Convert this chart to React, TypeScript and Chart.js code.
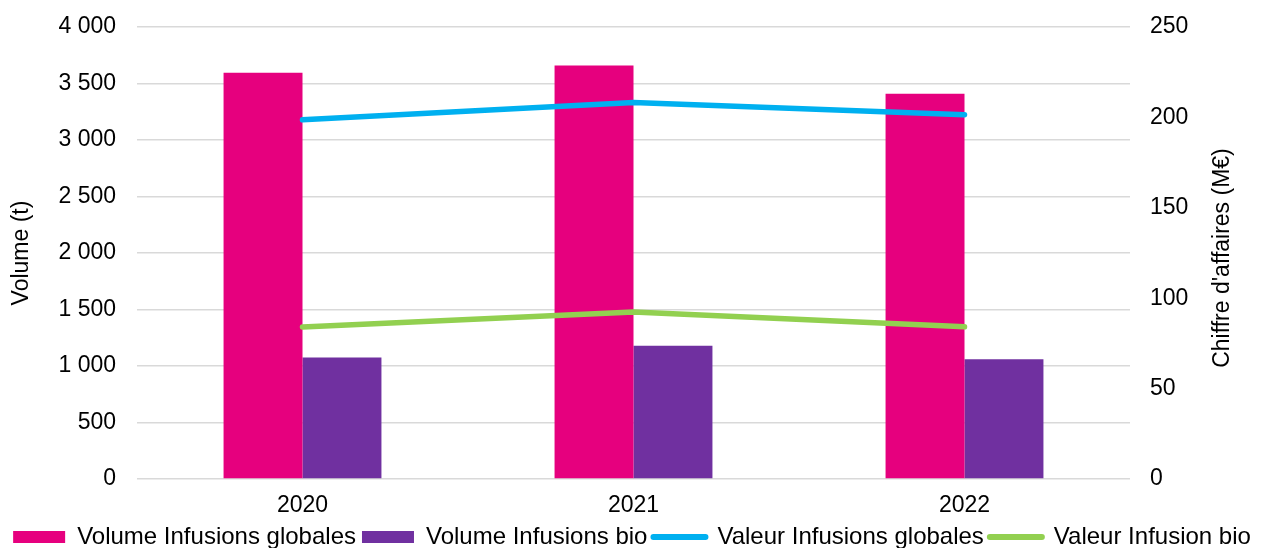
import React, { useEffect, useRef } from 'react';
import { Chart, registerables } from 'chart.js';

Chart.register(...registerables);

const categories = ['2020', '2021', '2022'];
const volumeGlobales = [3595, 3660, 3410];
const volumeBio = [1076, 1180, 1060];
const valeurGlobales = [198.7, 208.3, 201.5];
const valeurBio = [84.1, 92.4, 84.2];
const seriesLabels = [
  'Volume Infusions globales',
  'Volume Infusions bio',
  'Valeur Infusions globales',
  'Valeur Infusion bio',
];
const leftAxisTitle = 'Volume (t)';
const rightAxisTitle = "Chiffre d'affaires (M€)";

const FONT = '"Liberation Sans", Arial, sans-serif';
const PINK = '#E6007E';
const PURPLE = '#7030A0';
const BLUE = '#00B0F0';
const GREEN = '#92D050';
const GRID = '#D9D9D9';

const fmt = (v: number) => String(v).replace(/\B(?=(\d{3})+(?!\d))/g, ' ');

const rightTitlePlugin = {
  id: 'rightTitle',
  afterDraw(chart: any) {
    const s = chart.scales.y1;
    const ctx = chart.ctx;
    ctx.save();
    ctx.translate(s.right - 41, 258);
    ctx.rotate(-Math.PI / 2);
    ctx.font = `23px ${FONT}`;
    ctx.fillStyle = '#000';
    ctx.textAlign = 'center';
    ctx.textBaseline = 'middle';
    ctx.fillText(rightAxisTitle, 0, 0);
    ctx.restore();
  },
};

export default function App() {
  const ref = useRef<HTMLCanvasElement | null>(null);

  useEffect(() => {
    if (!ref.current) return;
    Chart.defaults.font.family = FONT;
    const chart = new Chart(ref.current, {
      type: 'bar',
      data: {
        labels: categories,
        datasets: [
          {
            type: 'bar',
            label: seriesLabels[0],
            data: volumeGlobales,
            backgroundColor: PINK,
            yAxisID: 'y',
            order: 2,
            categoryPercentage: 0.477,
            barPercentage: 1,
          },
          {
            type: 'bar',
            label: seriesLabels[1],
            data: volumeBio,
            backgroundColor: PURPLE,
            yAxisID: 'y',
            order: 2,
            categoryPercentage: 0.477,
            barPercentage: 1,
          },
          {
            type: 'line',
            label: seriesLabels[2],
            data: valeurGlobales,
            borderColor: BLUE,
            backgroundColor: BLUE,
            borderWidth: 5.5,
            borderCapStyle: 'round',
            borderJoinStyle: 'round',
            pointRadius: 0,
            tension: 0,
            yAxisID: 'y1',
            order: 1,
          },
          {
            type: 'line',
            label: seriesLabels[3],
            data: valeurBio,
            borderColor: GREEN,
            backgroundColor: GREEN,
            borderWidth: 5.5,
            borderCapStyle: 'round',
            borderJoinStyle: 'round',
            pointRadius: 0,
            tension: 0,
            yAxisID: 'y1',
            order: 1,
          },
        ] as any,
      },
      options: {
        responsive: false,
        animation: false,
        devicePixelRatio: 1,
        layout: { padding: { top: 27, left: 0, right: 0, bottom: 0 } },
        plugins: {
          tooltip: { enabled: false },
          legend: {
            position: 'bottom',
            labels: {
              font: { size: 24, family: FONT },
              color: '#000',
              usePointStyle: true,
              pointStyleWidth: 52,
              boxHeight: 12,
              padding: 6,
              generateLabels: (c: any) =>
                c.data.datasets.map((ds: any, i: number) => {
                  const isLine = ds.type === 'line';
                  const col = isLine ? ds.borderColor : ds.backgroundColor;
                  return {
                    text: ds.label,
                    fillStyle: col,
                    strokeStyle: col,
                    lineWidth: isLine ? 6 : 0,
                    lineCap: isLine ? 'round' : 'butt',
                    pointStyle: isLine ? 'line' : 'rect',
                    rotation: 0,
                    hidden: false,
                    datasetIndex: i,
                    fontColor: '#000',
                  };
                }),
            },
          },
        },
        scales: {
          x: {
            grid: { display: false, drawTicks: false },
            border: { display: false },
            ticks: { font: { size: 23 }, color: '#000', padding: 13 },
            afterFit: (s: any) => {
              s.height = 40;
            },
          },
          y: {
            position: 'left',
            min: 0,
            max: 4000,
            ticks: {
              stepSize: 500,
              font: { size: 23 },
              color: '#000',
              padding: 21,
              callback: (v: any) => fmt(Number(v)),
            },
            grid: { color: GRID, lineWidth: 1.5, drawTicks: false },
            border: { display: false },
            title: {
              display: true,
              text: leftAxisTitle,
              font: { size: 23 },
              color: '#000',
              padding: { top: 8, bottom: 0 },
            },
            afterFit: (s: any) => {
              s.width = 137;
              s.paddingTop = 0;
              s.paddingBottom = 0;
            },
          },
          y1: {
            position: 'right',
            min: 0,
            max: 250,
            ticks: {
              stepSize: 50,
              font: { size: 23 },
              color: '#000',
              padding: 20,
            },
            grid: { display: false, drawTicks: false },
            border: { display: false },
            afterFit: (s: any) => {
              s.width = 134;
              s.paddingTop = 0;
              s.paddingBottom = 0;
            },
          },
        },
      } as any,
      plugins: [rightTitlePlugin],
    });
    return () => chart.destroy();
  }, []);

  return (
    <div
      style={{
        position: 'fixed',
        left: 0,
        top: 0,
        width: 1264,
        height: 548,
        overflow: 'hidden',
        background: '#fff',
      }}
    >
      <canvas ref={ref} width={1264} height={559} style={{ display: 'block' }} />
    </div>
  );
}
